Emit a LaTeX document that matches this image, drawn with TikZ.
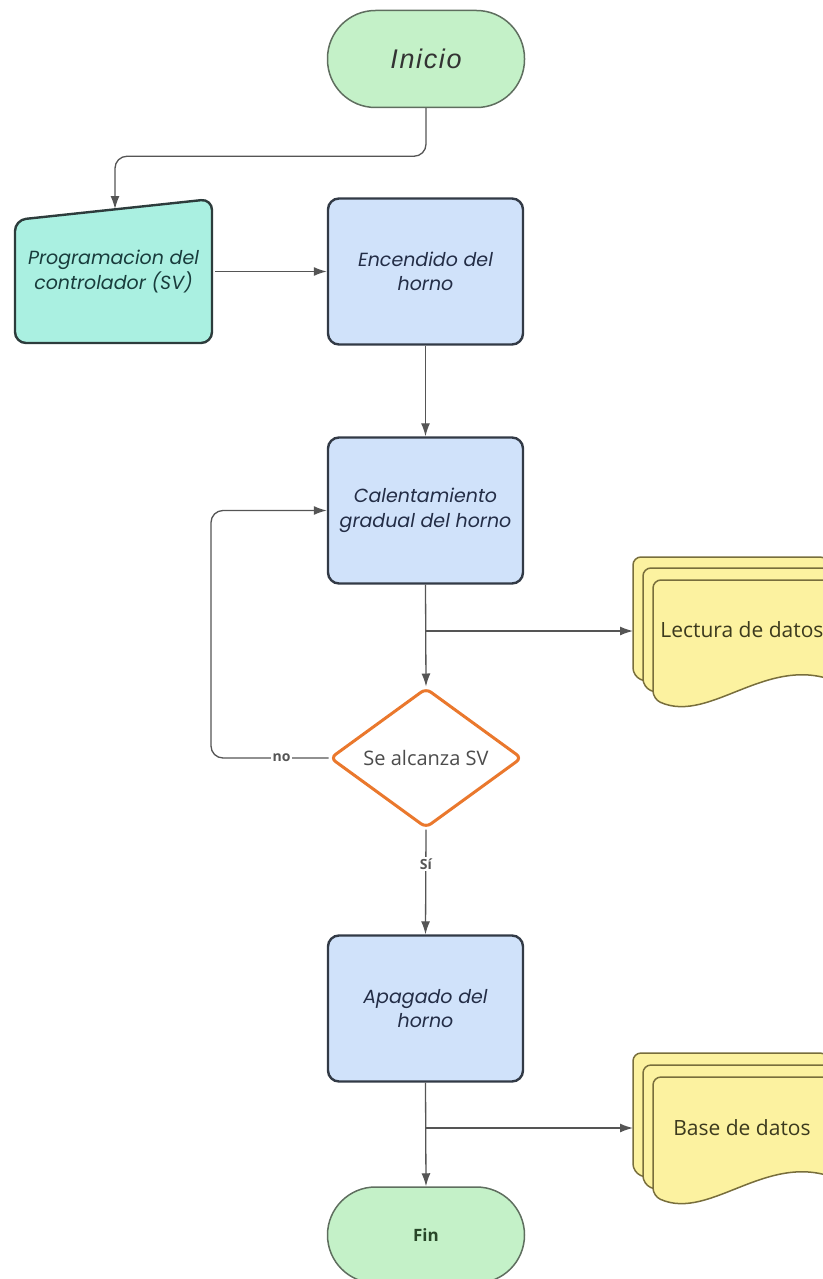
\documentclass[tikz,border=0pt]{standalone}
\usepackage{fontspec}
\usetikzlibrary{shapes.geometric,arrows.meta,calc}
\newfontfamily\boxfont{Poppins}
\newfontfamily\arialf[LetterSpace=6]{Liberation Sans}
\newfontfamily\docf{Open Sans}
\definecolor{termfill}{RGB}{196,241,200}
\definecolor{termborder}{RGB}{95,110,95}
\definecolor{progfill}{RGB}{170,240,225}
\definecolor{progborder}{RGB}{45,60,60}
\definecolor{progtext}{RGB}{25,60,60}
\definecolor{bluefill}{RGB}{208,226,250}
\definecolor{boxborder}{RGB}{50,58,70}
\definecolor{boxtext}{RGB}{35,45,70}
\definecolor{sheetfill}{RGB}{252,242,160}
\definecolor{sheetborder}{RGB}{120,110,60}
\definecolor{sheettext}{RGB}{60,58,30}
\definecolor{decorange}{RGB}{234,120,45}
\definecolor{linegray}{RGB}{85,85,85}
\definecolor{fintext}{RGB}{40,70,40}
\newcommand\mysheet[2]{%
  \draw[sheet] (#1,#2+60) -- (#1,#2) -- (#1+195,#2) -- (#1+195,#2+107)
    .. controls (#1+117,#2+70) and (#1+58,#2+145) .. (#1,#2+119) -- cycle;}
\begin{document}
\begin{tikzpicture}[x=1pt,y=-1pt,
  conn/.style={draw=linegray,line width=1.3pt},
  arr/.style={conn,-{Latex[length=13pt,width=9pt]}},
  terminal/.style={draw=termborder,line width=1.5pt,fill=termfill,rounded corners=48pt,
    minimum width=197pt,minimum height=97pt},
  bluebox/.style={draw=boxborder,line width=2.4pt,fill=bluefill,rounded corners=11pt,
    minimum width=195pt,minimum height=146pt,align=center,text=boxtext,
    font=\boxfont\itshape\fontsize{19}{24.5}\selectfont},
  sheet/.style={draw=sheetborder,line width=1.5pt,fill=sheetfill,rounded corners=8pt},
  doctext/.style={text=sheettext,font=\docf\fontsize{21}{25}\selectfont},
  lbl/.style={fill=white,inner sep=1.5pt,text=linegray,font=\docf\bfseries\fontsize{14}{16}\selectfont}
]
\useasboundingbox (0,0) rectangle (822,1279);

% terminals
\node[terminal,font=\arialf\itshape\fontsize{27}{30}\selectfont,text=black!80] (inicio) at (426,59) {Inicio};
\node[terminal,minimum height=96pt,font=\docf\bfseries\fontsize{17}{20}\selectfont,text=fintext] (fin) at (426,1235) {Fin};

% manual input
\draw[fill=progfill,draw=progborder,line width=2.4pt,rounded corners=11pt]
  (15,220) -- (212,199) -- (212,343) -- (15,343) -- cycle;
\node[minimum width=197pt,minimum height=143pt,align=center,text=progtext,
  font=\boxfont\itshape\fontsize{19}{24.5}\selectfont] (prog) at (113.5,271.5) {\raisebox{-12pt}{\parbox{196pt}{\centering Programacion del\\ controlador (SV)}}};
\coordinate (progin) at (115,209);

% process boxes
\node[bluebox] (encend) at (425.5,271.5) {Encendido del\\ horno};
\node[bluebox] (calent) at (425.5,510.5) {Calentamiento\\ gradual del horno};
\node[bluebox] (apag) at (425.5,1008.5) {Apagado del\\ horno};

% decision
\node[diamond,draw=decorange,line width=3pt,fill=white,minimum width=192pt,minimum height=140pt,
  aspect=1.37,inner sep=0pt,rounded corners=6pt,text=black!70,
  font=\docf\fontsize{20}{24}\selectfont] (dec) at (426,758) {Se alcanza SV};

% document stacks
\mysheet{633}{557}
\mysheet{643}{568}
\mysheet{653}{580}
\node[doctext] (lectura) at (742,630) {Lectura de datos};
\coordinate (lectin) at (633,631);

\mysheet{633}{1053}
\mysheet{643}{1065}
\mysheet{653}{1077}
\node[doctext] (base) at (742,1128) {Base de datos};
\coordinate (basein) at (633,1128);

% connectors
\draw[arr,rounded corners=12pt] (inicio.south) -- ++(0,48) -| (progin);
\draw[arr] (prog.east) -- (encend.west);
\draw[arr] (encend.south) -- (calent.north);
\draw[arr] (calent.south) -- (dec.north);
\draw[arr] (calent.south |- lectin) -- (lectin);
\coordinate (loopx) at (211,758);
\draw[arr,rounded corners=12pt] (dec.west) -- (dec.west -| loopx) |- (calent.west);
\node[lbl] at ($(dec.west)!0.4!(dec.west -| loopx)$) {no};
\draw[arr] (dec.south) -- (apag.north);
\node[lbl] at ($(dec.south)!0.33!(apag.north)$) {Sí};
\draw[arr] (apag.south) -- (fin.north);
\draw[arr] (apag.south |- basein) -- (basein);
\end{tikzpicture}
\end{document}
